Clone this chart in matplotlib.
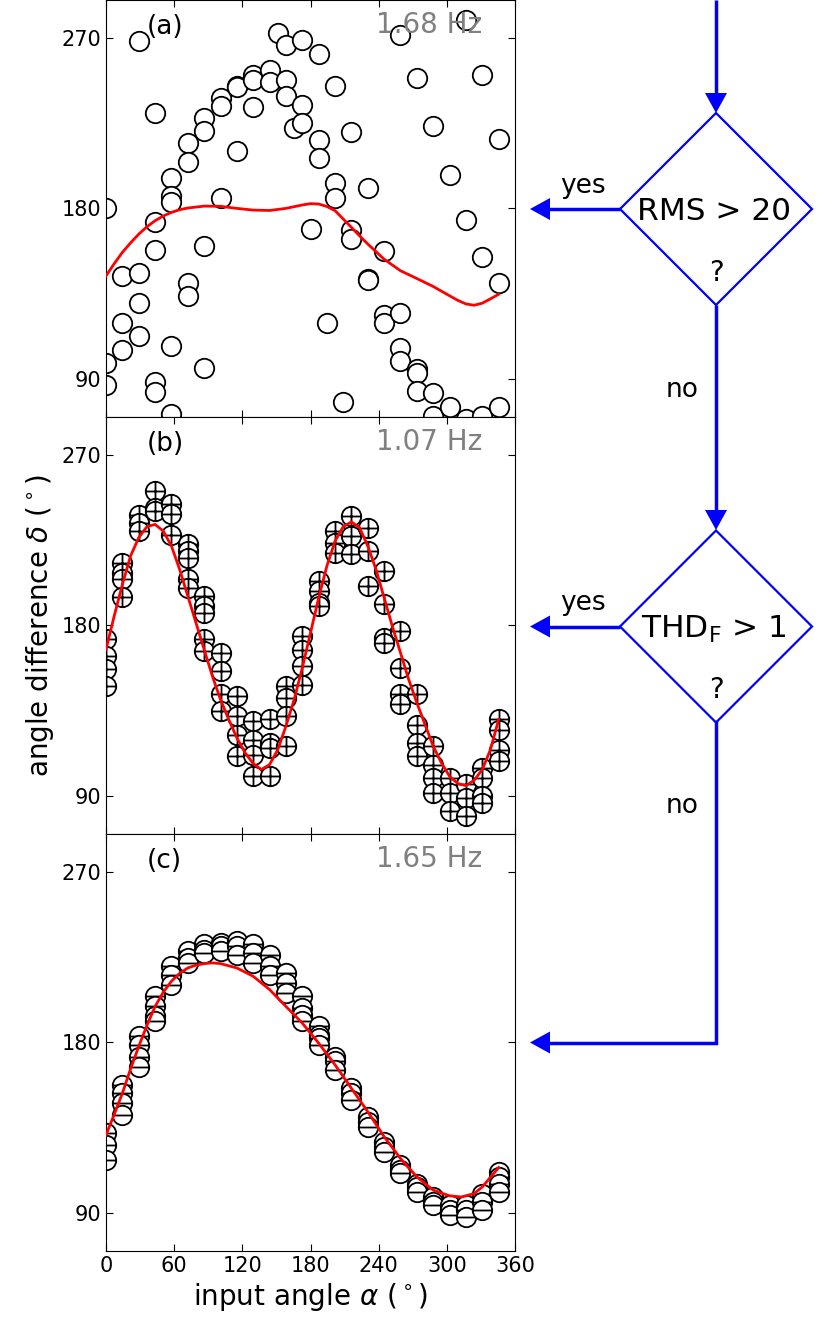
import numpy as np
import matplotlib
matplotlib.use("Agg")
import matplotlib.pyplot as plt
from matplotlib.path import Path
from matplotlib.patches import Polygon

# ---- data ----
# panel (a): 1.68 Hz, scattered
alpha_a = [0, 0, 0,
           14.4, 14.4, 14.4,
           28.8, 28.8, 28.8, 28.8,
           43.2, 43.2, 43.2, 43.2, 43.2,
           57.6, 57.6, 57.6, 57.6, 57.6,
           72, 72, 72, 72,
           86.4, 86.4, 86.4, 86.4,
           100.8, 100.8, 100.8,
           115.2, 115.2, 115.2,
           129.6, 129.6, 129.6,
           144, 144, 151.2,
           158.4, 158.4, 158.4, 165.6,
           172.8, 172.8, 172.8, 180,
           187.2, 187.2, 187.2, 194.4,
           201.6, 201.6, 201.6, 208.8,
           216, 216, 216,
           230.4, 230.4, 230.4,
           244.8, 244.8, 244.8,
           259.2, 259.2, 259.2, 259.2,
           273.6, 273.6, 273.6, 273.6,
           288, 288, 288,
           302.4, 302.4,
           316.8, 316.8, 316.8,
           331.2, 331.2, 331.2,
           345.6, 345.6, 345.6]
delta_a = [180, 98.6, 86.7,
           144.2, 119.6, 105.5,
           268.4, 145.8, 130.3, 112.7,
           230.5, 173.0, 158.2, 88.4, 83.1,
           196.0, 186.7, 183.5, 107.3, 71.3,
           214.5, 204.3, 140.7, 133.9,
           227.9, 220.9, 160.3, 95.8,
           238.1, 233.9, 185.6,
           244.5, 243.8, 210.1,
           250.3, 247.5, 233.4,
           253.1, 246.6, 272.3,
           266.0, 247.8, 239.2, 222.3,
           268.9, 234.6, 225.1, 169.1,
           261.5, 216.3, 206.4, 119.6,
           244.6, 193.6, 185.3, 77.8,
           220.5, 168.7, 163.8,
           190.6, 143.0, 142.3,
           157.6, 124.0, 119.4,
           271.6, 124.7, 106.6, 99.3,
           248.9, 95.1, 93.0, 83.5,
           223.7, 82.8, 70.4,
           197.6, 75.0,
           279.2, 173.8, 68.7,
           250.3, 154.3, 70.4,
           216.6, 140.4, 75.4]
fit_alpha_a = [0, 7.2, 14.4, 21.6, 28.8, 36, 43.2, 50.4, 57.6, 64.8, 72, 86.4,
               100.8, 115.2, 129.6, 144, 158.4, 172.8, 180, 187.2, 194.4,
               201.6, 208.8, 216, 223.2, 230.4, 244.8, 259.2, 273.6, 288,
               302.4, 309.6, 316.8, 324, 331.2, 338.4, 345.6]
fit_delta_a = [144.4, 150.8, 156.8, 161.8, 166.4, 170.3, 173.5, 176.0, 177.9,
               179.3, 180.2, 181.2, 181.1, 180.0, 179.1, 178.9, 180.0, 181.8,
               182.5, 182.3, 181.0, 178.8, 174.4, 170.0, 165.5, 161.2, 153.2,
               147.1, 143.0, 138.8, 133.9, 131.5, 129.6, 128.9, 130.0, 132.3,
               134.7]

# panels (b) and (c): repeated runs on a 14.4 deg grid
alpha_cols = [0, 14.4, 28.8, 43.2, 57.6, 72, 86.4, 100.8, 115.2, 129.6, 144,
              158.4, 172.8, 187.2, 201.6, 216, 230.4, 244.8, 259.2, 273.6,
              288, 302.4, 316.8, 331.2, 345.6]
delta_b = [[172.6, 163.8, 156.8, 148.3],
           [213.1, 207.8, 204.3, 195.1],
           [238.1, 234.2, 229.8],
           [250.9, 241.9, 240.4],
           [243.9, 238.6, 227.5],
           [222.8, 219.2, 215.7, 204.3, 199.9],
           [195.5, 190.2, 186.7, 172.6, 166.4],
           [165.6, 155.9, 143.6, 134.8],
           [142.7, 132.1, 122.4, 111.0],
           [129.5, 119.8, 111.9, 100.4],
           [130.4, 118.0, 115.4, 100.4],
           [148.0, 141.8, 132.1, 116.3],
           [174.4, 167.3, 158.5, 148.8],
           [203.4, 198.1, 192.0, 190.2],
           [229.8, 223.6, 218.4],
           [237.7, 227.2, 217.5],
           [231.6, 219.2, 200.8],
           [208.7, 191.1, 173.5, 170.8],
           [177.0, 157.7, 143.6, 138.3],
           [143.6, 127.7, 118.0, 111.0],
           [116.3, 106.6, 99.6, 91.7],
           [99.6, 91.7, 82.0],
           [96.1, 89.0, 79.4],
           [104.9, 99.6, 89.9, 86.4],
           [130.4, 125.1, 114.5, 108.4]]
fit_alpha_b = [0, 7.2, 14.4, 21.6, 28.8, 36, 43.2, 50.4, 57.6, 64.8, 72, 79.2,
               86.4, 93.6, 100.8, 108, 115.2, 122.4, 129.6, 136.8, 144, 151.2,
               158.4, 165.6, 172.8, 180, 187.2, 194.4, 201.6, 208.8, 216,
               223.2, 230.4, 237.6, 244.8, 252, 259.2, 266.4, 273.6, 280.8,
               288, 295.2, 302.4, 309.6, 316.8, 324, 331.2, 338.4, 345.6]
fit_delta_b = [167.3, 184.9, 201.6, 216.6, 226.3, 232.1, 233.3, 229.8, 221.9,
               209.6, 195.5, 181.4, 167.3, 153.3, 140.9, 130.4, 120.7, 112.8,
               107.1, 104.0, 106.6, 114.5, 126.9, 140.9, 157.7, 176.1, 194.6,
               211.3, 224.5, 232.1, 234.6, 231.6, 221.9, 209.6, 194.6, 179.6,
               165.6, 151.5, 139.2, 127.7, 116.3, 107.5, 100.4, 96.6, 95.5,
               98.3, 104.0, 114.5, 130.4]

delta_c = [[132.0, 125.9, 117.9],
           [157.6, 153.2, 147.9, 141.7],
           [183.2, 178.8, 172.6, 167.3],
           [204.3, 199.0, 193.8, 191.1],
           [220.2, 215.8, 210.5],
           [228.1, 224.6, 222.0],
           [231.7, 229.0, 227.2],
           [232.5, 230.8, 228.1],
           [233.4, 230.8, 226.4],
           [231.7, 227.2, 222.0],
           [226.4, 220.2, 215.8],
           [216.7, 211.4, 206.1],
           [204.3, 198.2, 194.6, 191.1],
           [188.5, 184.1, 182.3, 178.8],
           [172.6, 170.0, 165.5],
           [155.8, 153.2, 149.7],
           [140.9, 138.2, 135.6],
           [127.6, 125.0, 122.3],
           [115.3, 112.7, 110.9],
           [105.6, 103.8, 101.2],
           [98.5, 95.9, 94.1],
           [94.1, 91.5, 88.9],
           [94.1, 91.5, 88.0],
           [100.3, 95.9, 91.5],
           [111.8, 109.1, 105.6, 101.2]]
fit_alpha_c = [0, 7.2, 14.4, 21.6, 28.8, 36, 43.2, 50.4, 57.6, 64.8, 72, 79.2,
               86.4, 93.6, 100.8, 115.2, 129.6, 144, 158.4, 172.8, 187.2,
               201.6, 216, 230.4, 244.8, 259.2, 273.6, 288, 302.4, 313, 324,
               331.2, 345.6]
fit_delta_c = [131.2, 142.0, 153.2, 166.0, 177.9, 189.0, 199.0, 206.5, 212.3,
               216.5, 219.3, 220.8, 221.6, 222.0, 221.6, 219.3, 214.9, 207.9,
               199.0, 190.2, 179.6, 168.2, 155.8, 143.5, 130.3, 118.8, 109.1,
               102.1, 99.1, 98.5, 100.3, 103.8, 114.0]

panel_tags = ["(a)", "(b)", "(c)"]
freqs = ["1.68 Hz", "1.07 Hz", "1.65 Hz"]


def flatten(cols, rows):
    xs, ys = [], []
    for a, vals in zip(cols, rows):
        for v in vals:
            xs.append(a)
            ys.append(v)
    return xs, ys


# circle markers with a plus / bar inside
circ = Path.unit_circle()
plus = Path([[-1, 0], [1, 0], [0, -1], [0, 1]],
            [Path.MOVETO, Path.LINETO, Path.MOVETO, Path.LINETO])
bar = Path([[-1, 0], [1, 0]], [Path.MOVETO, Path.LINETO])
oplus = Path.make_compound_path(circ, plus)
ominus = Path.make_compound_path(circ, bar)

xb, yb = flatten(alpha_cols, delta_b)
xc, yc = flatten(alpha_cols, delta_c)
panels = [
    (alpha_a, delta_a, "o", fit_alpha_a, fit_delta_a),
    (xb, yb, oplus, fit_alpha_b, fit_delta_b),
    (xc, yc, ominus, fit_alpha_c, fit_delta_c),
]

fig = plt.figure(figsize=(8.3, 13.44), dpi=100)
left, width, h, bottom = 0.1277, 0.4928, 0.3103, 0.0692

axes = []
for i, (x, y, mk, fx, fy) in enumerate(panels):
    ax = fig.add_axes([left, bottom + (2 - i) * h, width, h])
    ax.plot(x, y, ls="none", marker=mk, ms=14, mfc="white", mec="black",
            mew=1.3, zorder=2)
    ax.plot(fx, fy, color="red", lw=2, zorder=3)
    ax.set_xlim(0, 360)
    ax.set_ylim(70, 290)
    ax.set_xticks(np.arange(0, 361, 60))
    ax.set_yticks([90, 180, 270])
    ax.tick_params(direction="in", top=True, right=True, length=5,
                   labelsize=15)
    if i < 2:
        ax.tick_params(labelbottom=False)
    ax.text(0.1, 0.935, panel_tags[i], transform=ax.transAxes, fontsize=19,
            va="center", ha="left")
    ax.text(0.92, 0.94, freqs[i], transform=ax.transAxes, fontsize=20,
            va="center", ha="right", color="gray")
    axes.append(ax)

axes[1].set_ylabel(r"angle difference $\delta$ ($^\circ$)", fontsize=20)
axes[2].set_xlabel(r"input angle $\alpha$ ($^\circ$)", fontsize=20)

# flowchart overlay in pixel coordinates
fl = fig.add_axes([0, 0, 1, 1])
fl.set_xlim(0, 830)
fl.set_ylim(1344, 0)
fl.axis("off")
fl.patch.set_alpha(0)

blue = "#0000ff"
cx = 716


def down_head(y_tip):
    fl.add_patch(Polygon([[cx - 11, y_tip - 20], [cx + 11, y_tip - 20],
                          [cx, y_tip]], closed=True, color=blue, lw=0))


def left_head(y):
    fl.add_patch(Polygon([[550, y - 11], [550, y + 11], [530, y]],
                         closed=True, color=blue, lw=0))


def diamond(yc, label):
    pts = [[cx, yc - 96], [cx + 96, yc], [cx, yc + 96], [cx - 96, yc]]
    fl.add_patch(Polygon(pts, closed=True, fill=False, ec=blue, lw=1.6))
    fl.text(cx - 2, yc + 3, label, fontsize=22.5, ha="center", va="center")
    fl.text(cx, yc + 64, "?", fontsize=20, ha="center", va="center")
    fl.plot([548, cx - 96], [yc, yc], color=blue, lw=2.5,
            solid_capstyle="butt")
    left_head(yc)
    fl.text(583, yc - 23, "yes", fontsize=19, ha="center", va="center")


fl.plot([cx, cx], [0, 95], color=blue, lw=2.5, solid_capstyle="butt")
down_head(113)
diamond(209, "RMS > 20")
fl.plot([cx, cx], [305, 512], color=blue, lw=2.5, solid_capstyle="butt")
fl.text(682, 390, "no", fontsize=19, ha="center", va="center")
down_head(530)
diamond(626.5, r"THD$_\mathrm{F}$ > 1")
fl.plot([cx, cx, 548], [722, 1042.5, 1042.5], color=blue, lw=2.5,
        solid_joinstyle="miter")
fl.text(682, 806, "no", fontsize=19, ha="center", va="center")
left_head(1042.5)

fig.savefig("out.png", dpi=100)
